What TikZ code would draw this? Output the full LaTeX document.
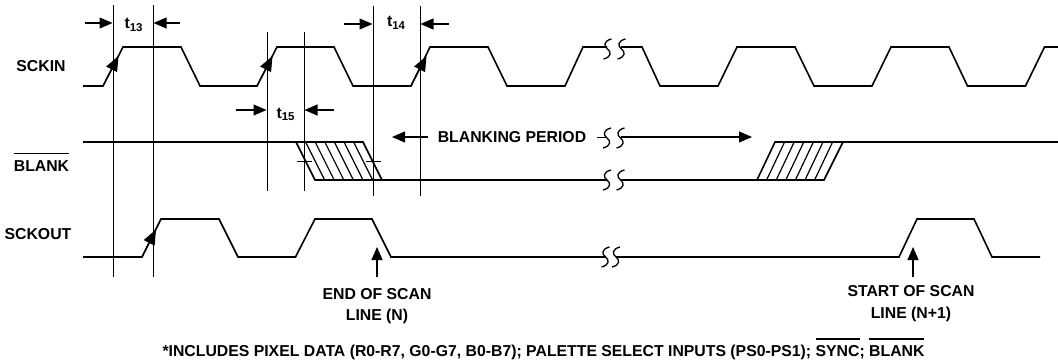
\documentclass[tikz,border=0pt]{standalone}
\usepackage{fontspec}
\setmainfont{Liberation Sans}
\usetikzlibrary{arrows.meta}
\newcommand{\barred}[1]{\setbox0\hbox{#1}\rlap{\rule[17pt]{\wd0}{1.5pt}}\box0}
\newcommand{\timing}[2]{#1{\fontsize{11.4}{11.4}\selectfont\raisebox{-2.5pt}{#2}}}
\newcommand{\scanbreak}[3]{%
    \draw[break line] (#1+4,#3-10) .. controls (#1-4,#3-8) and (#1-4,#3-3) .. (#1,#3) .. controls (#1+4,#3+3) and (#1+4,#3+8) .. (#1-4,#3+10);
    \draw[break line] (#2+4,#3-10) .. controls (#2-4,#3-8) and (#2-4,#3-3) .. (#2,#3) .. controls (#2+4,#3+3) and (#2+4,#3+8) .. (#2-4,#3+10);
}
\tikzset{
    wave/.style={line width=1.6pt, line join=miter},
    thin line/.style={line width=1pt},
    break line/.style={line width=1.3pt},
    hatch/.style={line width=1.2pt},
    tip/.style={line width=1.1pt, -{Triangle[length=13pt,width=11pt]}},
    edgetip/.style={line width=1.1pt, -{Triangle[length=15pt,width=12pt]}},
    label/.style={font=\fontsize{15.8}{15.8}\selectfont\bfseries, anchor=base, inner sep=0pt},
}
\begin{document}
\begin{tikzpicture}[x=1pt,y=-1pt]
        \useasboundingbox[fill=white] (0,0) rectangle (1058,364);

        \draw[wave] (83,86)--(103,86)--(123,47)--(181,47)--(200,86)--(257,86)--(277,47)--(334,47)--(353,86)--(411,86)--(430,47)--(488,47)--(507,86)--(565,86)--(583,47)--(607,47);
        \draw[wave] (621,47)--(642,47)--(660,86)--(718,86)--(737,47)--(795,47)--(814,86)--(872,86)--(891,47)--(949,47)--(967.5,86)--(1025.5,86)--(1044.5,47)--(1058,47);
        \draw[wave] (83,142)--(363,142)--(382,180)--(607,180);
        \draw[wave] (296,142)--(315,180)--(382,180);
        \draw[wave] (621,180)--(824,180)--(843,142)--(1058,142);
        \draw[wave] (757,180)--(775,142)--(843,142);
        \draw[wave] (83,257)--(142,257)--(161,219)--(219,219)--(238,257)--(295.5,257)--(315,219)--(372,219)--(391,257)--(605,257);
        \draw[wave] (616,257)--(899,257)--(917,219)--(974,219)--(992,257)--(1040,257);

        \scanbreak{607.5}{621.5}{49}
        \scanbreak{607}{620.5}{138}
        \scanbreak{607}{620.5}{180}
        \scanbreak{605.5}{616}{257}

        \draw[hatch] (305.6,142)--(324.6,180);
        \draw[hatch] (315.2,142)--(334.2,180);
        \draw[hatch] (324.8,142)--(343.8,180);
        \draw[hatch] (334.4,142)--(353.4,180);
        \draw[hatch] (344,142)--(363,180);
        \draw[hatch] (353.6,142)--(372.6,180);
        \draw[hatch] (766.6,180)--(784.6,142);
        \draw[hatch] (776.2,180)--(794.2,142);
        \draw[hatch] (785.8,180)--(803.8,142);
        \draw[hatch] (795.4,180)--(813.4,142);
        \draw[hatch] (805,180)--(823,142);
        \draw[hatch] (814.6,180)--(832.6,142);
        \draw[thin line] (297,161)--(312,161);
        \draw[thin line] (366,161)--(381,161);

        \draw[thin line] (113,5)--(113,277);
        \draw[thin line] (153,5)--(153,277);
        \draw[thin line] (267,32)--(267,191);
        \draw[thin line] (304,32)--(304,191);
        \draw[thin line] (373,6)--(373,196);
        \draw[thin line] (420,6)--(420,196);

        \node[label] (sckin) at (41,71) {SCKIN};
        \node[label] (blank) at (41.5,171) {\barred{BLANK}};
        \node[label] (sckout) at (38,239) {SCKOUT};
        \node[label] (t13) at (133.5,28.5) {\timing{t}{13}};
        \node[label] (t14) at (396,27) {\timing{t}{14}};
        \node[label] (t15) at (285.5,118) {\timing{t}{15}};
        \node[label] (period) at (512,142.5) {BLANKING PERIOD};
        \node[label] (endscan) at (377,299.5) {END OF SCAN};
        \node[label] (endline) at (377,320.5) {LINE (N)};
        \node[label] (startscan) at (911,296.5) {START OF SCAN};
        \node[label] (startline) at (911,318.5) {LINE (N+1)};
        \node[label] (note) at (543.5,356.5) {*INCLUDES PIXEL DATA (R0-R7, G0-G7, B0-B7); PALETTE SELECT INPUTS (PS0-PS1); \barred{SYNC}; \barred{BLANK}};

        \coordinate (a1) at (85,23);
        \coordinate (a2) at (112.5,23);
        \coordinate (a3) at (180,23);
        \coordinate (a4) at (153.5,23);
        \coordinate (a5) at (344,24);
        \coordinate (a6) at (372.5,24);
        \coordinate (a7) at (449,24);
        \coordinate (a8) at (420.5,24);
        \coordinate (a9) at (236,110);
        \coordinate (a10) at (266.5,110);
        \coordinate (a11) at (334,110);
        \coordinate (a12) at (304.5,110);
        \coordinate (p1) at (428,137);
        \coordinate (p2) at (392,137);
        \coordinate (p3) at (621,137);
        \coordinate (p4) at (752,137);
        \coordinate (p5) at (597,137);
        \coordinate (p6) at (607,137);
        \coordinate (e1) at (377,277);
        \coordinate (e2) at (377,247);
        \coordinate (s1) at (913,277);
        \coordinate (s2) at (913,247);
        \coordinate (r1) at (103,86);
        \coordinate (r2) at (118.5,56);
        \coordinate (r3) at (257,86);
        \coordinate (r4) at (272.5,56);
        \coordinate (r5) at (411,86);
        \coordinate (r6) at (426.5,56);
        \coordinate (r7) at (142,257);
        \coordinate (r8) at (156,229.5);

        \draw[tip] (a1)--(a2);
        \draw[tip] (a3)--(a4);
        \draw[tip] (a5)--(a6);
        \draw[tip] (a7)--(a8);
        \draw[tip] (a9)--(a10);
        \draw[tip] (a11)--(a12);
        \draw[tip] (p1)--(p2);
        \draw[tip] (p3)--(p4);
        \draw[thin line] (p5)--(p6);
        \draw[tip] (e1)--(e2);
        \draw[tip] (s1)--(s2);
        \draw[edgetip] (r1)--(r2);
        \draw[edgetip] (r3)--(r4);
        \draw[edgetip] (r5)--(r6);
        \draw[edgetip] (r7)--(r8);
    \end{tikzpicture}
\end{document}
